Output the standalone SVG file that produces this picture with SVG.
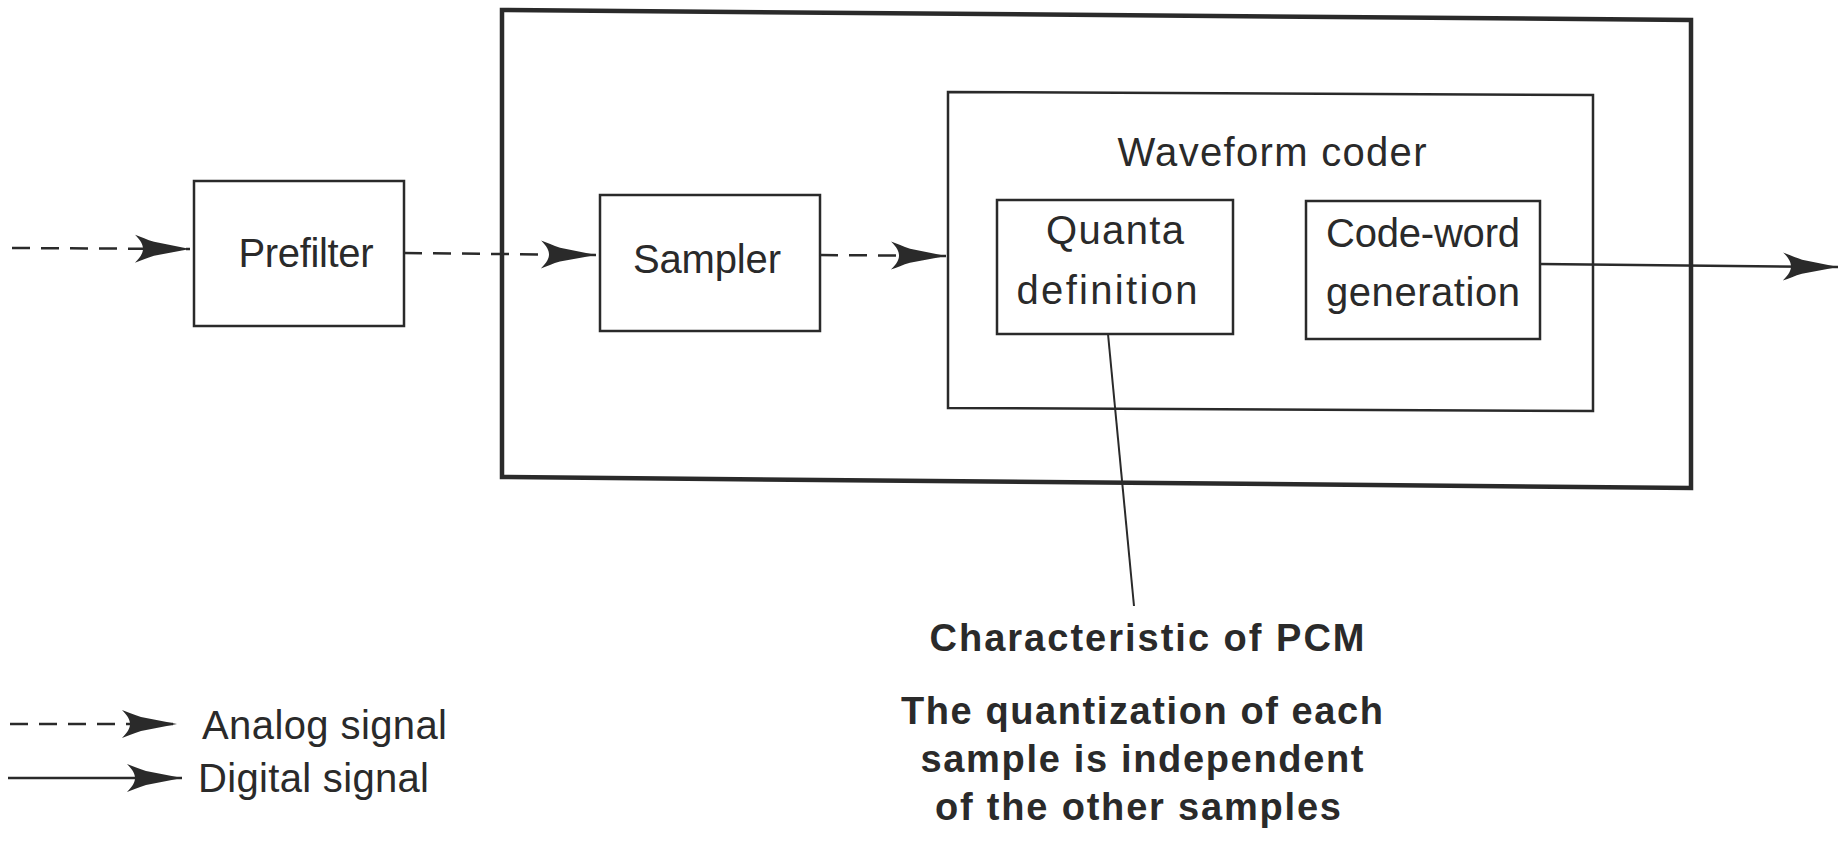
<svg xmlns="http://www.w3.org/2000/svg" width="1845" height="841" viewBox="0 0 1845 841">
  <style>
    .box { fill: none; stroke: #2a2a2a; stroke-width: 2.5; }
    .frame { fill: none; stroke: #2a2a2a; stroke-width: 4.5; }
    .analog { fill: none; stroke: #2a2a2a; stroke-width: 2.5; stroke-dasharray: 18 11; }
    .digital { fill: none; stroke: #2a2a2a; stroke-width: 2.5; }
    .lead { fill: none; stroke: #2a2a2a; stroke-width: 2; }
    .lbl { font-family: "Liberation Sans", Arial, sans-serif; font-size: 40px; fill: #2a2a2a; text-anchor: middle; }
    .note { font-family: "Liberation Sans", Arial, sans-serif; font-size: 38px; font-weight: bold; fill: #2a2a2a; text-anchor: middle; }
    .key { font-family: "Liberation Sans", Arial, sans-serif; font-size: 40px; fill: #2a2a2a; }
  </style>
  <defs>
    <!-- barbed, tapering arrowhead shared by all signal lines -->
    <marker id="barb" markerUnits="userSpaceOnUse" markerWidth="62" markerHeight="30" refX="60" refY="15" orient="auto">
      <path d="M60 15 L24 8 C17 6 11 3 5 1 C11 7 13 11 13 15 C13 19 11 23 5 29 C11 27 17 24 24 22 Z" fill="#2a2a2a"/>
    </marker>
  </defs>
  <rect width="1845" height="841" fill="#ffffff"/>

  <!-- enclosing frame -->
  <g id="system">
    <path class="frame" d="M502 10 L1691 20 L1691 488 L502 477 Z"/>
  </g>

  <g id="prefilter">
    <rect class="box" x="194" y="181" width="210" height="145"/>
    <text class="lbl" x="306" y="267" textLength="135">Prefilter</text>
  </g>

  <g id="sampler">
    <rect class="box" x="600" y="195" width="220" height="136"/>
    <text class="lbl" x="707" y="273" textLength="148">Sampler</text>
  </g>

  <g id="waveform-coder">
    <path class="box" d="M948 92 L1593 95 L1593 411 L948 408 Z"/>
    <text class="lbl" x="1272" y="166" textLength="309">Waveform coder</text>
  </g>

  <g id="quanta-definition">
    <rect class="box" x="997" y="200" width="236" height="134"/>
    <text class="lbl" x="1115" y="244" textLength="138">Quanta</text>
    <text class="lbl" x="1107" y="304" textLength="181">definition</text>
  </g>

  <g id="code-word-generation">
    <rect class="box" x="1306" y="201" width="234" height="138"/>
    <text class="lbl" x="1423" y="247" textLength="194">Code-word</text>
    <text class="lbl" x="1423" y="306" textLength="194">generation</text>
  </g>

  <g id="pcm-note">
    <text class="note" x="1147" y="651" textLength="435">Characteristic of PCM</text>
    <text class="note" x="1142" y="724" textLength="482">The quantization of each</text>
    <text class="note" x="1142" y="772" textLength="443">sample is independent</text>
    <text class="note" x="1138" y="820" textLength="406">of the other samples</text>
  </g>

  <g id="connectors">
    <line class="analog" x1="12" y1="248" x2="190" y2="249" marker-end="url(#barb)"/>
    <line class="analog" x1="404" y1="253" x2="596" y2="255" marker-end="url(#barb)"/>
    <line class="analog" x1="820" y1="255" x2="946" y2="256" marker-end="url(#barb)"/>
    <line class="digital" x1="1540" y1="264" x2="1838" y2="267" marker-end="url(#barb)"/>
    <line class="lead" x1="1108" y1="334" x2="1134" y2="606"/>
  </g>

  <g id="legend">
    <line class="analog" x1="10" y1="724" x2="177" y2="724" stroke-dasharray="16 9" marker-end="url(#barb)"/>
    <text class="key" x="202" y="739" textLength="245">Analog signal</text>
    <line class="digital" x1="8" y1="778" x2="182" y2="778" marker-end="url(#barb)"/>
    <text class="key" x="198" y="792" textLength="231">Digital signal</text>
  </g>
</svg>
